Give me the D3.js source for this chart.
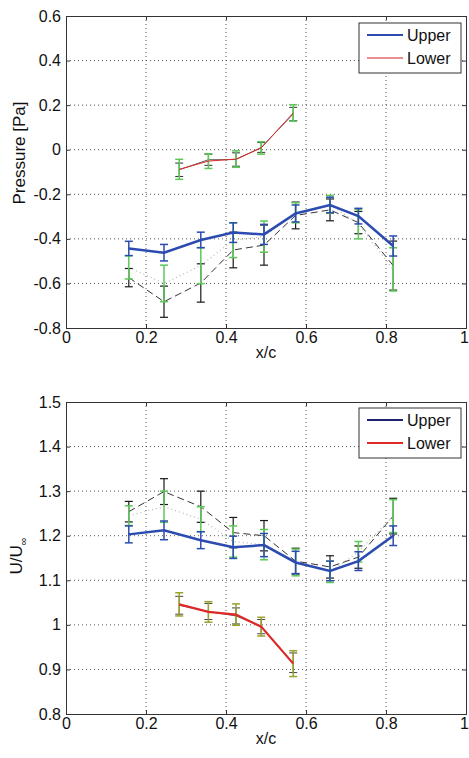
<!DOCTYPE html>
<html>
<head>
<meta charset="utf-8">
<script src="https://cdnjs.cloudflare.com/ajax/libs/d3/7.8.5/d3.min.js"></script>
<style>
	body { margin: 0; background: #fff; }
	text { font-family: "Liberation Sans", Arial, sans-serif; fill: #111; }
	.axis path { stroke: #333; }
	.axis line { stroke: #333; }
</style>
</head>
<body>
<div id="chart"></div>
<script>
//Chordwise stations
var xUpper = [0.157, 0.245, 0.337, 0.418, 0.495, 0.574, 0.66, 0.731, 0.818];
var xLower = [0.283, 0.356, 0.425, 0.488, 0.568];
var xTicks = [0, 0.2, 0.4, 0.6, 0.8, 1];

//Pressure panel
var pTicks = [-0.8, -0.6, -0.4, -0.2, 0, 0.2, 0.4, 0.6];
var pUpperBlue = [-0.443, -0.462, -0.405, -0.372, -0.38, -0.286, -0.248, -0.298, -0.432];
var pUpperBlueErr = [0.032, 0.037, 0.035, 0.044, 0.045, 0.038, 0.035, 0.035, 0.045];
var pUpperDash = [-0.574, -0.682, -0.598, -0.45, -0.428, -0.295, -0.27, -0.327, -0.52];
var pUpperDashErr = [0.041, 0.07, 0.086, 0.08, 0.09, 0.06, 0.049, 0.05, 0.11];
var pUpperDot = [-0.528, -0.6, -0.52, -0.406, -0.39, -0.283, -0.245, -0.334, -0.537];
var pUpperDotErr = [0.052, 0.082, 0.081, 0.078, 0.07, 0.045, 0.04, 0.066, 0.097];
var pLowerRed = [-0.088, -0.051, -0.042, 0.008, 0.165];
var pLowerRedErr = [0.045, 0.033, 0.037, 0.028, 0.037];
var pLowerBlack = [-0.09, -0.045, -0.044, 0.01, 0.16];
var pLowerBlackErr = [0.03, 0.025, 0.03, 0.022, 0.03];

//Velocity panel
var uTicks = [0.8, 0.9, 1, 1.1, 1.2, 1.3, 1.4, 1.5];
var uUpperBlue = [1.203, 1.212, 1.19, 1.174, 1.179, 1.14, 1.121, 1.143, 1.2];
var uUpperBlueErr = [0.019, 0.021, 0.019, 0.025, 0.026, 0.025, 0.022, 0.021, 0.022];
var uUpperDash = [1.254, 1.299, 1.265, 1.207, 1.2, 1.143, 1.13, 1.152, 1.244];
var uUpperDashErr = [0.023, 0.029, 0.035, 0.034, 0.034, 0.029, 0.025, 0.025, 0.04];
var uUpperDot = [1.245, 1.265, 1.237, 1.187, 1.18, 1.14, 1.119, 1.164, 1.244];
var uUpperDotErr = [0.022, 0.035, 0.028, 0.035, 0.034, 0.03, 0.024, 0.023, 0.037];
var uLowerRed = [1.046, 1.029, 1.023, 0.996, 0.913];
var uLowerRedErr = [0.026, 0.023, 0.024, 0.021, 0.029];
var uLowerBlack = [1.044, 1.03, 1.02, 0.996, 0.915];
var uLowerBlackErr = [0.02, 0.018, 0.018, 0.016, 0.022];

var legendText = ["Upper", "Lower"];

var svg = d3.select('#chart')
	.append('svg')
	.attr('width', 469)
	.attr('height', 758);

var drawPanel = function(opts) {
	var x = d3.scaleLinear().domain([0, 1]).range([66, 466]);
	var y = d3.scaleLinear().domain(opts.domain).range([opts.bottom, opts.top]);
	var g = svg.append("g");

	//Dotted grid
	g.append("g").selectAll("line.gx")
		.data(xTicks.slice(1, -1))
		.enter().append("line")
		.attr("x1", function(d) { return x(d); }).attr("x2", function(d) { return x(d); })
		.attr("y1", opts.top).attr("y2", opts.bottom)
		.attr("stroke", "#444").attr("stroke-width", 0.9).attr("stroke-dasharray", "1,3");
	g.append("g").selectAll("line.gy")
		.data(opts.ticks.slice(1, -1))
		.enter().append("line")
		.attr("x1", 66).attr("x2", 466)
		.attr("y1", function(d) { return y(d); }).attr("y2", function(d) { return y(d); })
		.attr("stroke", "#444").attr("stroke-width", 0.9).attr("stroke-dasharray", "1,3");

	//Series: lines + error bars
	opts.series.forEach(function(s) {
		var pts = s.x.map(function(v, i) { return { x: v, y: s.y[i], e: s.err[i] }; });
		var bars = g.append("g").attr("stroke", s.bar).attr("stroke-width", s.barWidth || 1.5);
		pts.forEach(function(p) {
			var cx = x(p.x), y1 = y(p.y - p.e), y2 = y(p.y + p.e);
			bars.append("line").attr("x1", cx).attr("x2", cx).attr("y1", y1).attr("y2", y2);
			bars.append("line").attr("x1", cx - 4).attr("x2", cx + 4).attr("y1", y1).attr("y2", y1);
			bars.append("line").attr("x1", cx - 4).attr("x2", cx + 4).attr("y1", y2).attr("y2", y2);
		});
		g.append("path")
			.datum(pts)
			.attr("fill", "none")
			.attr("stroke", s.color)
			.attr("stroke-width", s.width)
			.attr("stroke-dasharray", s.dash || null)
			.attr("d", d3.line().x(function(d) { return x(d.x); }).y(function(d) { return y(d.y); }));
	});

	//Axes, ticks pointing inward
	g.append("g").attr("class", "axis")
		.attr("transform", "translate(0," + opts.bottom + ")")
		.call(d3.axisBottom(x).tickValues(xTicks).tickSize(-4).tickPadding(4).tickFormat(function(d) { return String(d); }))
		.call(function(a) {
			a.selectAll("text").attr("font-size", 16)
				.attr("dx", function(d) { return d === 1 ? -2 : 0; });
		});
	g.append("g").attr("class", "axis")
		.attr("transform", "translate(66,0)")
		.call(d3.axisLeft(y).tickValues(opts.ticks).tickSize(-4).tickPadding(5).tickFormat(function(d) { return String(d); }))
		.call(function(a) { a.selectAll("text").attr("font-size", 16); });
	g.append("g").attr("class", "axis")
		.attr("transform", "translate(0," + opts.top + ")")
		.call(d3.axisTop(x).tickValues(xTicks).tickSize(-4).tickFormat(""));
	g.append("g").attr("class", "axis")
		.attr("transform", "translate(466,0)")
		.call(d3.axisRight(y).tickValues(opts.ticks).tickSize(-4).tickFormat(""));

	//x label
	g.append("text")
		.attr("x", 266).attr("y", opts.bottom + 30)
		.attr("text-anchor", "middle").attr("font-size", 16)
		.text("x/c");

	//y label
	var yl = g.append("text")
		.attr("transform", "translate(" + opts.labelX + "," + opts.labelY + ") rotate(-90)")
		.attr("text-anchor", "middle").attr("font-size", 17);
	yl.append("tspan").text(opts.yLabel);
	if (opts.ySub) {
		yl.append("tspan").attr("font-size", 11).attr("dy", 5).text(opts.ySub);
	}

	//Legend
	var lg = g.append("g").attr("transform", "translate(359," + (opts.top + opts.legendOffset) + ")");
	lg.append("rect").attr("width", 102).attr("height", 50)
		.attr("fill", "#fff").attr("stroke", "#333").attr("stroke-width", 1);
	legendText.forEach(function(t, i) {
		var ly = 12 + i * 23;
		lg.append("line").attr("x1", 8).attr("x2", 44).attr("y1", ly).attr("y2", ly)
			.attr("stroke", opts.legendColors[i]).attr("stroke-width", opts.legendWidths[i]);
		lg.append("text").attr("x", 48).attr("y", ly + 6).attr("font-size", 16).text(t);
	});
};

drawPanel({
	domain: [-0.8, 0.6], ticks: pTicks, top: 16, bottom: 328,
	yLabel: "Pressure [Pa]", labelX: 25, labelY: 153,
	legendOffset: 7, legendColors: ["#2b4bb0", "#d02020"], legendWidths: [2.2, 1],
	series: [
		{ x: xUpper, y: pUpperDash, err: pUpperDashErr, color: "#333", width: 1, dash: "7,4", bar: "#1a1a1a", barWidth: 1.2 },
		{ x: xUpper, y: pUpperDot, err: pUpperDotErr, color: "#b8b8a8", width: 1.2, dash: "1,3", bar: "#5cc858" },
		{ x: xUpper, y: pUpperBlue, err: pUpperBlueErr, color: "#2b4bb0", width: 2.5, bar: "#2b4bb0" },
		{ x: xLower, y: pLowerBlack, err: pLowerBlackErr, color: "#333", width: 0.8, bar: "#333", barWidth: 1 },
		{ x: xLower, y: pLowerRed, err: pLowerRedErr, color: "#e02828", width: 1, bar: "#5cc858" }
	]
});

drawPanel({
	domain: [0.8, 1.5], ticks: uTicks, top: 402, bottom: 714,
	yLabel: "U/U", ySub: "\u221e", labelX: 22, labelY: 556,
	legendOffset: 6, legendColors: ["#1c2470", "#e02828"], legendWidths: [2, 2],
	series: [
		{ x: xUpper, y: uUpperDash, err: uUpperDashErr, color: "#333", width: 1, dash: "7,4", bar: "#1a1a1a", barWidth: 1.2 },
		{ x: xUpper, y: uUpperDot, err: uUpperDotErr, color: "#b8b8a8", width: 1.2, dash: "1,3", bar: "#5cc858" },
		{ x: xUpper, y: uUpperBlue, err: uUpperBlueErr, color: "#2b4bb0", width: 2.5, bar: "#2b4bb0" },
		{ x: xLower, y: uLowerBlack, err: uLowerBlackErr, color: "#333", width: 0.8, bar: "#444", barWidth: 1 },
		{ x: xLower, y: uLowerRed, err: uLowerRedErr, color: "#e02828", width: 2.2, bar: "#9aa22a" }
	]
});
</script>
</body>
</html>
